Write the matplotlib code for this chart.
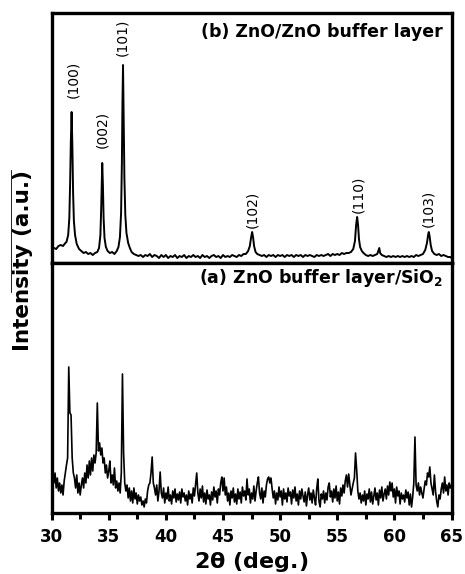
import matplotlib.pyplot as plt
import numpy as np
from matplotlib.lines import Line2D
from matplotlib.ticker import MultipleLocator

plt.rcParams['font.family'] = ['DejaVu Sans']
plt.rcParams['mathtext.fontset'] = 'dejavusans'

# (b) ZnO/ZnO buffer layer : (2theta, intensity a.u.)
pattern_b = [
    (30.0, 13), (30.2, 15), (30.4, 14), (30.6, 17), (30.8, 18), (31.0, 17), (31.2, 20), (31.3, 21),
    (31.45, 28), (31.55, 45), (31.62, 80), (31.68, 120), (31.75, 151), (31.82, 115), (31.88, 70),
    (31.95, 42), (32.05, 28), (32.2, 19), (32.4, 14), (32.6, 12), (32.8, 10), (33.0, 11), (33.2, 9),
    (33.4, 10), (33.6, 8), (33.8, 10), (34.0, 11), (34.15, 15), (34.27, 28), (34.34, 55), (34.39, 82),
    (34.43, 100), (34.49, 78), (34.55, 45), (34.63, 25), (34.75, 16), (34.9, 12), (35.1, 10), (35.3, 11),
    (35.5, 9), (35.7, 12), (35.85, 16), (35.98, 26), (36.08, 50), (36.15, 100), (36.2, 160), (36.25, 198),
    (36.3, 150), (36.37, 85), (36.45, 48), (36.55, 30), (36.7, 20), (36.85, 15), (37.0, 11), (37.2, 9),
    (37.4, 8), (37.6, 7), (37.8, 8), (38.0, 6), (38.2, 8), (38.4, 7), (38.6, 9), (38.8, 6), (39.0, 8),
    (39.2, 7), (39.4, 5), (39.6, 8), (39.8, 6), (40.0, 8), (40.2, 5), (40.4, 7), (40.6, 6), (40.8, 8),
    (41.0, 5), (41.2, 7), (41.4, 6), (41.6, 8), (41.8, 5), (42.0, 7), (42.2, 6), (42.4, 8), (42.6, 6),
    (42.8, 7), (43.0, 5), (43.2, 8), (43.4, 6), (43.6, 7), (43.8, 5), (44.0, 7), (44.2, 8), (44.4, 6),
    (44.6, 7), (44.8, 5), (45.0, 8), (45.2, 6), (45.4, 7), (45.6, 6), (45.8, 8), (46.0, 7), (46.2, 6),
    (46.4, 8), (46.6, 7), (46.8, 9), (47.0, 9), (47.2, 12), (47.35, 17), (47.45, 25), (47.55, 31),
    (47.63, 26), (47.72, 17), (47.85, 11), (48.0, 9), (48.2, 8), (48.4, 7), (48.6, 8), (48.8, 6),
    (49.0, 8), (49.2, 7), (49.4, 8), (49.6, 6), (49.8, 8), (50.0, 7), (50.2, 8), (50.4, 6), (50.6, 8),
    (50.8, 7), (51.0, 8), (51.2, 6), (51.4, 8), (51.6, 7), (51.8, 8), (52.0, 6), (52.2, 8), (52.4, 7),
    (52.6, 8), (52.8, 7), (53.0, 6), (53.2, 8), (53.4, 7), (53.6, 8), (53.8, 7), (54.0, 8), (54.2, 9),
    (54.4, 7), (54.6, 9), (54.8, 8), (55.0, 9), (55.2, 8), (55.4, 10), (55.6, 9), (55.8, 10), (56.0, 10),
    (56.2, 11), (56.4, 14), (56.55, 22), (56.65, 38), (56.74, 46), (56.82, 38), (56.9, 24), (57.0, 16),
    (57.15, 12), (57.3, 10), (57.5, 8), (57.7, 7), (57.9, 8), (58.1, 7), (58.3, 8), (58.5, 9),
    (58.62, 13), (58.68, 15), (58.75, 10), (58.9, 8), (59.1, 7), (59.3, 6), (59.5, 7), (59.7, 6),
    (59.9, 7), (60.1, 6), (60.3, 7), (60.5, 6), (60.7, 7), (60.9, 6), (61.1, 7), (61.3, 6), (61.5, 7),
    (61.7, 6), (61.9, 8), (62.1, 7), (62.3, 8), (62.5, 9), (62.7, 13), (62.85, 20), (62.95, 28),
    (63.01, 31), (63.08, 27), (63.18, 18), (63.3, 12), (63.5, 9), (63.7, 8), (63.9, 9), (64.1, 7),
    (64.3, 8), (64.5, 7), (64.7, 6), (64.9, 6), (65.0, 5),
]

hkl_labels = ['(100)', '(002)', '(101)', '(102)', '(110)', '(103)']
hkl_x = [31.86, 34.4, 36.2, 47.52, 56.8, 63.0]
hkl_y = [184, 134, 226, 54, 69, 55]

# (a) ZnO buffer layer/SiO2 : intensity every 0.1 deg from 30.0 to 65.0
intensity_a = [
    38, 42, 30, 40, 25, 35, 22, 30, 20, 28,      # 30
    18, 32, 40, 48, 55, 146, 100, 98, 55, 40,    # 31
    35, 25, 38, 20, 30, 18, 28, 35, 25, 40,      # 32
    30, 48, 35, 52, 38, 55, 42, 58, 50, 60,      # 33
    110, 62, 70, 58, 65, 50, 55, 40, 48, 35,     # 34
    42, 52, 30, 38, 28, 45, 25, 32, 22, 30,      # 35
    20, 40, 139, 60, 30, 22, 28, 15, 25, 12,     # 36
    22, 10, 25, 14, 20, 9, 18, 12, 16, 8,        # 37
    12, 6, 14, 10, 22, 28, 30, 40, 56, 30,       # 38
    25, 18, 28, 12, 22, 41, 20, 15, 25, 10,      # 39
    20, 14, 26, 12, 18, 9, 22, 15, 24, 11,       # 40
    19, 13, 21, 10, 24, 16, 20, 12, 18, 8,       # 41
    22, 14, 19, 10, 25, 17, 28, 40, 20, 12,      # 42
    24, 15, 27, 11, 20, 9, 23, 14, 18, 8,        # 43
    21, 13, 26, 16, 22, 10, 24, 18, 30, 36,      # 44
    22, 35, 18, 26, 12, 20, 8, 22, 15, 25,       # 45
    11, 19, 9, 24, 14, 21, 10, 26, 17, 22,       # 46
    13, 34, 18, 24, 10, 20, 14, 27, 12, 22,      # 47
    30, 36, 20, 14, 25, 10, 22, 16, 28, 34,      # 48
    36, 30, 35, 24, 15, 22, 9, 20, 13, 26,       # 49
    16, 22, 8, 24, 14, 20, 11, 25, 17, 21,       # 50
    9, 23, 15, 26, 12, 19, 8, 22, 14, 24,        # 51
    17, 11, 21, 7, 18, 25, 13, 20, 10, 23,       # 52
    15, 8, 24, 34, 12, 6, 19, 14, 22, 10,        # 53
    20, 13, 26, 30, 16, 22, 11, 24, 15, 27,      # 54
    12, 21, 9, 25, 17, 28, 20, 32, 38, 26,       # 55
    39, 28, 18, 24, 30, 35, 60, 43, 22, 14,      # 56
    20, 10, 18, 12, 22, 8, 19, 14, 24, 11,       # 57
    21, 9, 17, 25, 13, 20, 8, 23, 15, 26,        # 58
    12, 19, 24, 14, 27, 18, 31, 22, 30, 16,      # 59
    24, 10, 26, 17, 22, 9, 20, 14, 18, 11,       # 60
    23, 15, 21, 8, 19, 6, 16, 30, 76, 28,        # 61
    22, 30, 18, 26, 20, 15, 24, 32, 28, 40,      # 62
    36, 46, 30, 24, 18, 38, 22, 12, 6, 18,       # 63
    14, 24, 30, 20, 36, 22, 28, 18, 30, 25,      # 64
    28,                                          # 65
]
two_theta_a = np.linspace(30, 65, len(intensity_a))

two_theta_b = [p[0] for p in pattern_b]
intensity_b = [p[1] for p in pattern_b]

fig = plt.figure(figsize=(4.65, 5.74), dpi=100)
ax_b = fig.add_axes([0.111, 0.5418, 0.86, 0.4355])
ax_a = fig.add_axes([0.111, 0.1063, 0.86, 0.4355])

for ax in (ax_b, ax_a):
    ax.set_xlim(30, 65)
    ax.set_ylim(0, 250)
    ax.set_yticks([])
    for s in ax.spines.values():
        s.set_linewidth(2.4)

ax_b.plot(two_theta_b, intensity_b, color='black', lw=1.4)
ax_b.set_xticks([])
for lab, x, y in zip(hkl_labels, hkl_x, hkl_y):
    ax_b.text(x, y, lab, rotation=90, ha='center', va='center', fontsize=10)
ax_b.text(64.25, 231, '(b) ZnO/ZnO buffer layer', ha='right', va='center',
          fontsize=12.5, fontweight='bold')

ax_a.plot(two_theta_a, intensity_a, color='black', lw=1.2)
ax_a.xaxis.set_major_locator(MultipleLocator(5))
ax_a.xaxis.set_minor_locator(MultipleLocator(2.5))
ax_a.tick_params(axis='x', which='major', direction='out', length=5, width=2.2, pad=6,
                 labelsize=12)
ax_a.tick_params(axis='x', which='minor', direction='out', length=4, width=2.2)
for t in ax_a.get_xticklabels():
    t.set_fontweight('bold')
ax_a.text(64.25, 235, r'(a) ZnO buffer layer/SiO$_\mathbf{2}$', ha='right', va='center',
          fontsize=12.5, fontweight='bold')
ax_a.set_xlabel(r'2$\mathbf{\theta}$ (deg.)', fontsize=16, fontweight='bold', labelpad=3)

fig.text(0.05, 0.547, 'Intensity (a.u.)', rotation=90, ha='center', va='center',
         fontsize=15.5, fontweight='bold')
fig.add_artist(Line2D([0.024, 0.024], [0.491, 0.704], color='black', lw=0.6))

fig.savefig('out.png', dpi=100)
